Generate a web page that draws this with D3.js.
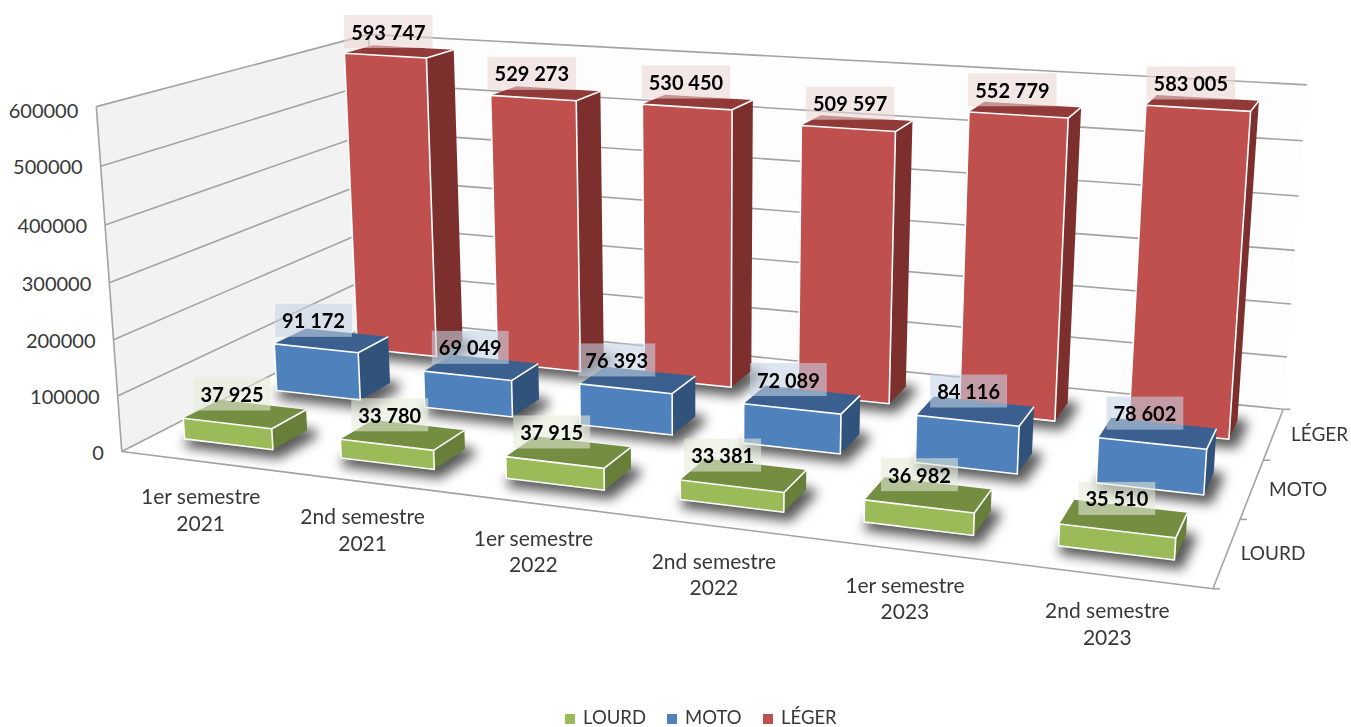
<!DOCTYPE html>
<html>
<head>
<meta charset="utf-8">
<script src="https://cdn.jsdelivr.net/npm/d3@7"></script>
<style>
	html, body { margin: 0; background: #fff; }
	text { font-family: Lato, "Open Sans", sans-serif; fill: #383838; }
	.value-label { font-weight: 700; fill: #000; }
</style>
</head>
<body>
<div id="chart"></div>
<script>
// ---------- DATA ----------
const semesters = [
	["1er semestre", "2021"],
	["2nd semestre", "2021"],
	["1er semestre", "2022"],
	["2nd semestre", "2022"],
	["1er semestre", "2023"],
	["2nd semestre", "2023"],
];
const seriesNames = ["LOURD", "MOTO", "LÉGER"];
const lourd = [37925, 33780, 37915, 33381, 36982, 35510];
const moto = [91172, 69049, 76393, 72089, 84116, 78602];
const leger = [593747, 529273, 530450, 509597, 552779, 583005];
const valueTicks = [0, 100000, 200000, 300000, 400000, 500000, 600000];

const seriesValues = [lourd, moto, leger];
const front = ["#9bbb59", "#4f81bd", "#c0504d"];
const side = ["#677f39", "#31527b", "#7c2f2d"];
const topFace = ["#748e41", "#3b6090", "#923a37"];
const boxFill = ["#e5ead8", "#c4d4e5", "#ecd7d6"];

// labels were moved by hand in the original, so a few sit off centre
const labelNudge = [
	[3, 3, -1, -5, 7, 9],
	[-2, 5, -5, 2, 9, 3],
	[5, 2, 4, 9, 3, 4],
];

const width = 1351;
const height = 727;

// ---------- SCALES ----------
const xScale = d3
	.scaleBand()
	.domain(d3.range(semesters.length))
	.range([0, 1])
	.paddingInner(0.43)
	.paddingOuter(0.215)
	.align(0.47);
const zScale = d3
	.scaleBand()
	.domain(d3.range(seriesNames.length))
	.range([0, 1])
	.paddingInner(0.625)
	.paddingOuter(0.3125);
const yScale = d3.scaleLinear().domain([0, 600000]).range([0, 1]);

// ---------- 3D VIEW ----------
// box corners (x, z, y in 0-1) and where they land on the page
const viewCorners = [
	[0, 0, 0, 121, 451],
	[1, 0, 0, 1213, 589],
	[0, 1, 0, 381, 320],
	[1, 1, 0, 1283, 409],
	[0, 0, 1, 97, 107],
	[0, 1, 1, 368, 34],
	[1, 1, 1, 1307, 85],
];

function solve(A, b) {
	const n = b.length;
	const m = A.map((row, i) => [...row, b[i]]);
	for (let c = 0; c < n; c++) {
		let p = c;
		for (let r = c + 1; r < n; r++) if (Math.abs(m[r][c]) > Math.abs(m[p][c])) p = r;
		[m[c], m[p]] = [m[p], m[c]];
		for (let r = 0; r < n; r++) {
			if (r === c) continue;
			const f = m[r][c] / m[c][c];
			for (let k = c; k <= n; k++) m[r][k] -= f * m[c][k];
		}
	}
	return m.map((row, i) => row[n] / row[i]);
}

function fitView(corners) {
	const rows = [];
	const rhs = [];
	corners.forEach(([u, v, w, px, py]) => {
		rows.push([u, v, w, 1, 0, 0, 0, 0, -u * px, -v * px, -w * px]);
		rhs.push(px);
		rows.push([0, 0, 0, 0, u, v, w, 1, -u * py, -v * py, -w * py]);
		rhs.push(py);
	});
	const ata = d3.range(11).map((i) =>
		d3.range(11).map((j) => d3.sum(rows, (r) => r[i] * r[j]))
	);
	const atb = d3.range(11).map((i) => d3.sum(rows, (r, k) => r[i] * rhs[k]));
	return solve(ata, atb);
}

const h = fitView(viewCorners);

function project(u, v, w) {
	const d = h[8] * u + h[9] * v + h[10] * w + 1;
	return [
		(h[0] * u + h[1] * v + h[2] * w + h[3]) / d,
		(h[4] * u + h[5] * v + h[6] * w + h[7]) / d,
	];
}

const poly = (pts) => "M" + pts.map((p) => p.join(",")).join("L") + "Z";
const grouped = d3.formatLocale({ thousands: " ", grouping: [3], decimal: ",", currency: ["", ""] }).format(",");

// ---------- DRAW ----------
const svg = d3.select("#chart").append("svg").attr("width", width).attr("height", height);

const wallsG = svg.append("g");
wallsG.append("path")
	.attr("d", poly([project(0, 0, 0), project(0, 1, 0), project(0, 1, 1), project(0, 0, 1)]))
	.attr("fill", "#f2f2f2");
wallsG.append("path")
	.attr("d", poly([project(0, 1, 0), project(1, 1, 0), project(1, 1, 1), project(0, 1, 1)]))
	.attr("fill", "#fdfdfd");

const gridColor = "#a3a3a3";
function gridLine(a, b) {
	wallsG.append("line")
		.attr("x1", a[0]).attr("y1", a[1])
		.attr("x2", b[0]).attr("y2", b[1])
		.attr("stroke", gridColor)
		.attr("stroke-width", 1.6);
}

valueTicks.forEach((t) => {
	const w = yScale(t);
	gridLine(project(0, 0, w), project(0, 1, w));
	gridLine(project(0, 1, w), project(1, 1, w));
	const p = project(0, 0, w);
	svg.append("text")
		.attr("x", p[0] - 18)
		.attr("y", p[1] + (t === 600000 ? 3 : 0))
		.attr("text-anchor", "end")
		.attr("dominant-baseline", "central")
		.attr("font-size", 20)
		.text(t);
});

// walls and floor edges
gridLine(project(0, 0, 0), project(0, 0, 1));
gridLine(project(0, 1, 0), project(0, 1, 1));
gridLine(project(0, 0, 0), project(1, 0, 0));
gridLine(project(1, 0, 0), project(1, 1, 0));

// depth ticks
[0, 1 / 3, 2 / 3, 1].forEach((v) => {
	const p = project(1, v, 0);
	gridLine(p, [p[0] + 7, p[1]]);
});

// shadows under every bar
const shadowG = svg.append("g").style("filter", "blur(6px)");
seriesNames.forEach((name, s) => {
	const v0 = zScale(s);
	const v1 = v0 + zScale.bandwidth();
	semesters.forEach((sem, c) => {
		const u0 = xScale(c);
		const u1 = u0 + xScale.bandwidth();
		shadowG.append("path")
			.attr("d", poly([project(u0, v0, 0), project(u1, v0, 0), project(u1, v1, 0), project(u0, v1, 0)]))
			.attr("fill", "#3c3c3c")
			.attr("stroke", "#3c3c3c")
			.attr("stroke-width", 10)
			.attr("stroke-linejoin", "round")
			.attr("opacity", 0.85)
			.attr("transform", "translate(5,4)");
	});
});

// back series first
const barsG = svg.append("g");
const labels = [];
[2, 1, 0].forEach((s) => {
	const v0 = zScale(s);
	const v1 = v0 + zScale.bandwidth();
	seriesValues[s].forEach((value, c) => {
		const u0 = xScale(c);
		const u1 = u0 + xScale.bandwidth();
		const w = yScale(value);
		const g = barsG.append("g");
		const ftl = project(u0, v0, w);
		const ftr = project(u1, v0, w);
		const btr = project(u1, v1, w);
		const btl = project(u0, v1, w);
		const fbl = project(u0, v0, 0);
		const fbr = project(u1, v0, 0);
		const bbr = project(u1, v1, 0);
		g.append("path").attr("d", poly([ftr, btr, bbr, fbr])).attr("fill", side[s]);
		g.append("path").attr("d", poly([ftl, ftr, btr, btl])).attr("fill", topFace[s]);
		g.append("path")
			.attr("d", poly([ftl, ftr, fbr, fbl]))
			.attr("fill", front[s])
			.attr("stroke", "#fff")
			.attr("stroke-width", 1.6)
			.attr("stroke-linejoin", "round");
		g.append("line")
			.attr("x1", ftr[0]).attr("y1", ftr[1])
			.attr("x2", btr[0]).attr("y2", btr[1])
			.attr("stroke", "#fff")
			.attr("stroke-width", 1.6);
		labels.push({
			s,
			value,
			nudge: labelNudge[s][c],
			at: project(u0 + xScale.bandwidth() / 2, v0 + zScale.bandwidth() / 2, w),
		});
	});
});

// value labels stay above every bar
const labelsG = svg.append("g");
labels.forEach((d) => {
	const g = labelsG.append("g").attr("transform", `translate(${d.at[0] - 16 + d.nudge},${d.at[1] - 20})`);
	const box = g.append("rect").attr("fill", boxFill[d.s]).attr("opacity", 0.58);
	const t = g.append("text")
		.classed("value-label", true)
		.attr("text-anchor", "middle")
		.attr("dominant-baseline", "central")
		.attr("font-size", 20)
		.text(grouped(d.value));
	const len = t.node().getComputedTextLength();
	box.attr("x", -len / 2 - 7).attr("y", -16.5).attr("width", len + 14).attr("height", 33);
});

// category labels under the front edge
semesters.forEach((lines, c) => {
	const p = project(xScale(c) + xScale.bandwidth() / 2, 0, 0);
	const t = svg.append("text").attr("text-anchor", "middle").attr("font-size", 21);
	lines.forEach((line, i) => {
		t.append("tspan")
			.attr("x", p[0] + 3)
			.attr("y", p[1] + 43 + i * 26.5)
			.text(line);
	});
});

// series labels along the right floor edge
seriesNames.forEach((name, s) => {
	const p = project(1, zScale(s) + zScale.bandwidth() / 2, 0);
	svg.append("text")
		.attr("x", p[0] + 46)
		.attr("y", p[1])
		.attr("text-anchor", "middle")
		.attr("dominant-baseline", "central")
		.attr("font-size", 19)
		.text(name);
});

// legend
const legendScale = d3.scaleOrdinal().domain(seriesNames).range([565, 667, 763]);
seriesNames.forEach((name, s) => {
	const x = legendScale(name);
	svg.append("rect")
		.attr("x", x).attr("y", 714)
		.attr("width", 10).attr("height", 10)
		.attr("fill", front[s]);
	svg.append("text")
		.attr("x", x + 18)
		.attr("y", 716.5)
		.attr("dominant-baseline", "central")
		.attr("font-size", 18.5)
		.text(name);
});
</script>
</body>
</html>
